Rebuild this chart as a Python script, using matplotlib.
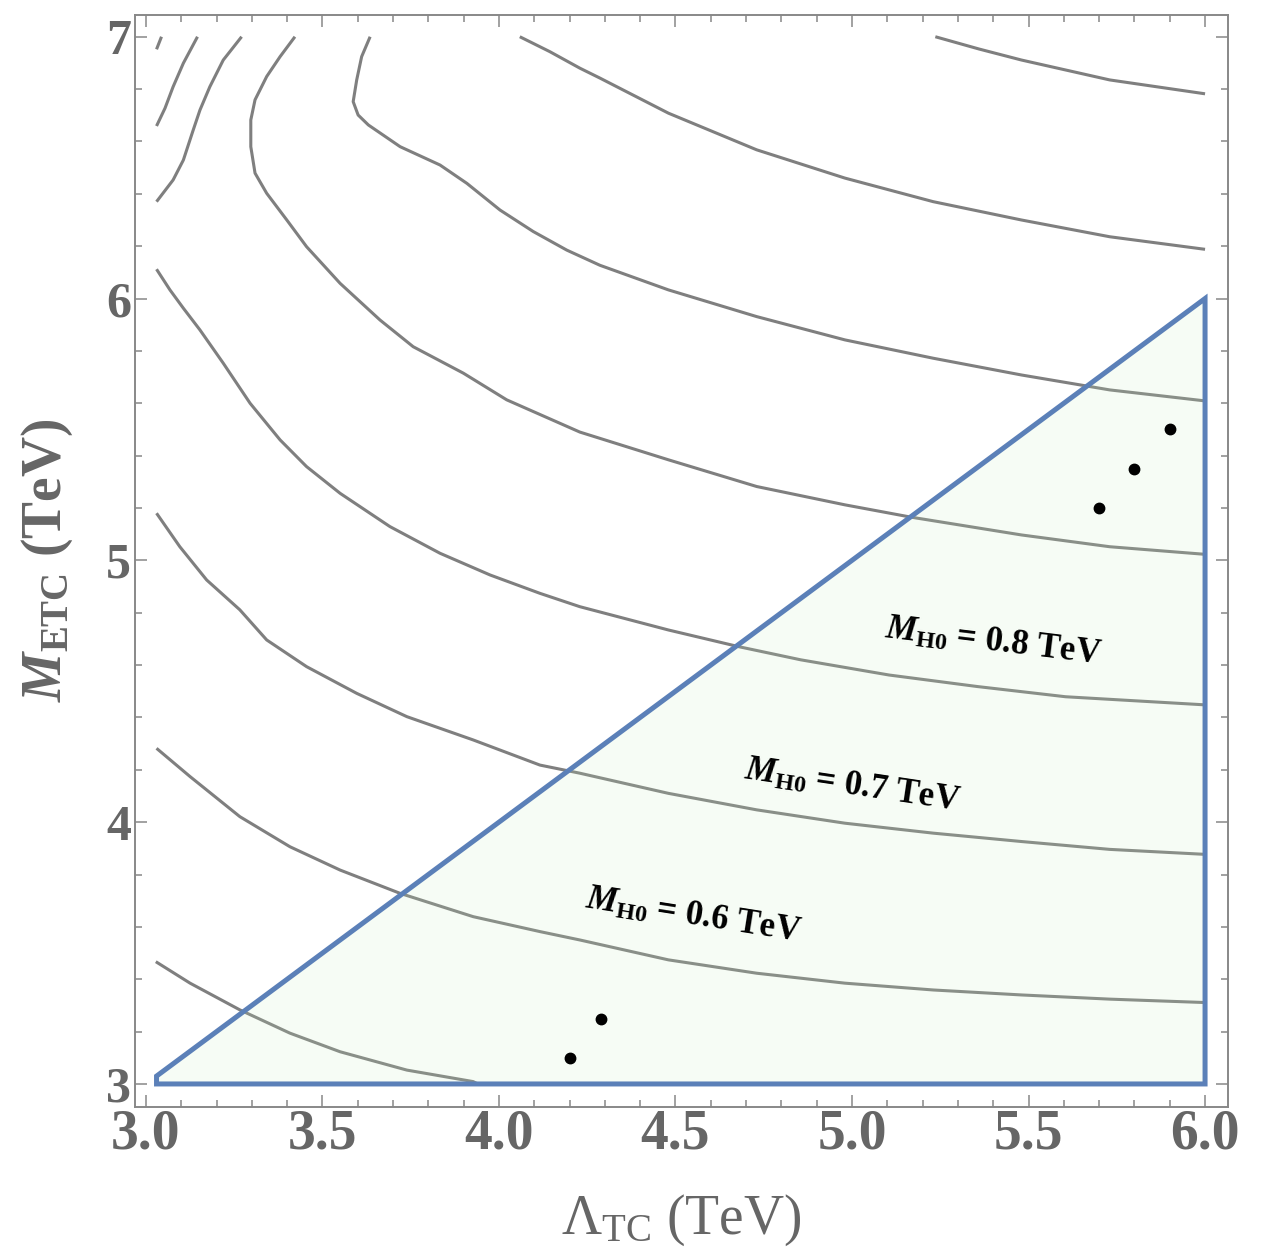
import numpy as np
import matplotlib.pyplot as plt
from matplotlib.ticker import MultipleLocator

plt.rcParams.update({
    'font.family': 'Liberation Serif',
    'mathtext.fontset': 'custom',
    'mathtext.rm': 'Liberation Serif',
    'mathtext.it': 'Liberation Serif:italic:bold',
    'mathtext.bf': 'Liberation Serif:bold',
})

# contour lines (Lambda_TC, M_ETC) in TeV
c1_x = [3.044, 3.030]
c1_y = [7.0, 6.952]
c2_x = [3.146, 3.106, 3.077, 3.054, 3.030]
c2_y = [7.0, 6.899, 6.809, 6.727, 6.659]
c3_x = [3.271, 3.219, 3.181, 3.153, 3.134, 3.106, 3.077, 3.030]
c3_y = [7.0, 6.911, 6.809, 6.720, 6.644, 6.529, 6.453, 6.370]
c4_x = [3.422, 3.380, 3.342, 3.309, 3.297, 3.297, 3.309, 3.342, 3.399, 3.455,
        3.550, 3.663, 3.757, 3.899, 4.022, 4.229, 4.480, 4.730, 4.980, 5.167,
        5.480, 5.730, 6.0]
c4_y = [7.0, 6.924, 6.848, 6.759, 6.682, 6.580, 6.479, 6.402, 6.300, 6.198,
        6.058, 5.918, 5.816, 5.715, 5.613, 5.490, 5.384, 5.282, 5.212, 5.165,
        5.097, 5.052, 5.023]
c5_x = [3.635, 3.611, 3.597, 3.587, 3.601, 3.630, 3.720, 3.833, 3.909, 4.003,
        4.097, 4.192, 4.286, 4.480, 4.730, 4.980, 5.230, 5.480, 5.730, 6.0]
c5_y = [7.0, 6.924, 6.835, 6.752, 6.701, 6.663, 6.580, 6.510, 6.440, 6.338,
        6.256, 6.185, 6.127, 6.033, 5.931, 5.842, 5.772, 5.708, 5.651, 5.609]
c6_x = [4.059, 4.144, 4.229, 4.286, 4.480, 4.730, 4.980, 5.230, 5.480, 5.730, 6.0]
c6_y = [7.0, 6.943, 6.880, 6.842, 6.708, 6.568, 6.460, 6.370, 6.300, 6.236, 6.188]
c7_x = [5.236, 5.360, 5.480, 5.730, 6.0]
c7_y = [7.0, 6.953, 6.911, 6.835, 6.782]
c8_x = [3.030, 3.068, 3.106, 3.153, 3.219, 3.295, 3.380, 3.455, 3.550, 3.691,
        3.833, 3.975, 4.116, 4.229, 4.480, 4.680, 4.855, 5.105, 5.355, 5.605, 6.0]
c8_y = [6.112, 6.033, 5.963, 5.880, 5.753, 5.600, 5.460, 5.358, 5.256, 5.129,
        5.027, 4.944, 4.874, 4.823, 4.734, 4.670, 4.620, 4.562, 4.518, 4.479, 4.448]
c9_x = [3.030, 3.096, 3.172, 3.266, 3.342, 3.455, 3.597, 3.739, 3.927, 4.116,
        4.229, 4.480, 4.730, 4.980, 5.230, 5.480, 5.730, 6.0]
c9_y = [5.180, 5.052, 4.925, 4.811, 4.696, 4.594, 4.492, 4.403, 4.314, 4.218,
        4.187, 4.110, 4.047, 3.996, 3.958, 3.926, 3.896, 3.877]
c10_x = [3.030, 3.125, 3.266, 3.408, 3.550, 3.720, 3.927, 4.116, 4.229, 4.480,
         4.730, 4.980, 5.230, 5.480, 5.730, 6.0]
c10_y = [4.282, 4.174, 4.021, 3.906, 3.817, 3.728, 3.639, 3.582, 3.550, 3.474,
         3.423, 3.385, 3.359, 3.340, 3.324, 3.311]
c11_x = [3.028, 3.125, 3.266, 3.408, 3.550, 3.739, 3.927, 3.940]
c11_y = [3.467, 3.385, 3.283, 3.194, 3.123, 3.053, 3.009, 3.0]

contours = [(c1_x, c1_y), (c2_x, c2_y), (c3_x, c3_y), (c4_x, c4_y),
            (c5_x, c5_y), (c6_x, c6_y), (c7_x, c7_y), (c8_x, c8_y),
            (c9_x, c9_y), (c10_x, c10_y), (c11_x, c11_y)]

# allowed region
region_x = [3.03, 3.03, 6.0, 6.0]
region_y = [3.0, 3.03, 6.0, 3.0]

# benchmark points
pts_x = [5.9, 5.8, 5.7, 4.29, 4.2]
pts_y = [5.5, 5.35, 5.2, 3.25, 3.1]

# contour labels
lab_text = [r'$M_{\mathbf{H0}}$ = 0.8 TeV', r'$M_{\mathbf{H0}}$ = 0.7 TeV',
            r'$M_{\mathbf{H0}}$ = 0.6 TeV']
lab_x = [5.40, 5.00, 4.55]
lab_y = [4.684, 4.134, 3.638]
lab_rot = [-7, -8.5, -9]

W, H = 1272, 1250
fig = plt.figure(figsize=(W / 100, H / 100), dpi=100)
ax = fig.add_axes([135 / W, 1 - 1107 / H, (1228 - 135) / W, (1107 - 15) / H])

for cx, cy in contours:
    ax.plot(cx, cy, color='#7f7f7f', lw=2.2, zorder=1, solid_capstyle='butt',
            solid_joinstyle='round')

ax.fill(region_x, region_y, facecolor='#c8eebe', alpha=0.15, edgecolor='none', zorder=2)
ax.fill(region_x, region_y, facecolor='none', edgecolor='#5b80b8', lw=3.6,
        joinstyle='miter', zorder=3)

ax.plot(pts_x, pts_y, 'o', color='black', ms=7.5, zorder=4)

for t, x, y, r in zip(lab_text, lab_x, lab_y, lab_rot):
    ax.text(x, y, t, rotation=r, ha='center', va='center', fontsize=25,
            fontweight='bold', color='black', zorder=5, rotation_mode='anchor')

ax.set_xlim(2.969, 6.065)
ax.set_ylim(2.912, 7.083)

ax.xaxis.set_major_locator(MultipleLocator(0.5))
ax.xaxis.set_minor_locator(MultipleLocator(0.1))
ax.yaxis.set_major_locator(MultipleLocator(1))
ax.yaxis.set_minor_locator(MultipleLocator(0.2))
ax.xaxis.set_major_formatter(plt.FormatStrFormatter('%.1f'))

fc = '#888888'
for s in ax.spines.values():
    s.set_color(fc)
    s.set_linewidth(1.4)
ax.tick_params(which='both', direction='in', top=True, right=True, color=fc, width=1.1)
ax.tick_params(which='major', length=8.5)
ax.tick_params(which='minor', length=5)
ax.tick_params(axis='x', labelsize=40, labelcolor='#666666', pad=1)
ax.tick_params(axis='y', labelsize=36, labelcolor='#666666', pad=3)
for lab in ax.get_xticklabels() + ax.get_yticklabels():
    lab.set_fontweight('bold')

fig.text(681.5 / W, 1 - 1220 / H, r'$\Lambda_{\mathrm{TC}}$ (TeV)', ha='center', va='center',
         fontsize=40, color='#666666')
fig.text(47 / W, 1 - 560 / H, r'$M_{\mathbf{ETC}}$ (TeV)', ha='center', va='center',
         rotation=90, fontsize=40, fontweight='bold', color='#666666')

fig.savefig('out.png', dpi=100)
